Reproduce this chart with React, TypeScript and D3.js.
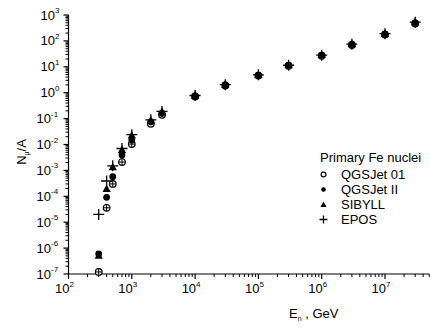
import React from "react";
import * as d3 from "d3";

const energies = [300, 400, 500, 700, 1000, 2000, 3000, 1e4, 3e4, 1e5, 3e5, 1e6, 3e6, 1e7, 3e7];
const qgsjet01 = [1.2e-7, 3.6e-5, 3.0e-4, 2.1e-3, 1.04e-2, 0.063, 0.14, 0.72, 1.9, 4.6, 11, 27, 70, 175, 470];
const qgsjet2 = [6e-7, 9.1e-5, 5.7e-4, 3.9e-3, 0.0148, 0.075, 0.16, 0.75, 2.0, 4.8, 11.4, 28, 74, 185, 500];
const sibyll = [5e-7, 1.9e-4, 1.3e-3, 6.0e-3, 0.022, 0.083, 0.18, 0.76, 2.0, 4.8, 11.4, 28, 74, 185, 520];
const epos = [2e-5, 3.9e-4, 1.5e-3, 7.0e-3, 0.024, 0.09, 0.19, 0.78, 2.05, 4.9, 11.5, 28, 75, 190, 530];

const xTickExps = [2, 3, 4, 5, 6, 7];
const yTickExps = [-7, -6, -5, -4, -3, -2, -1, 0, 1, 2, 3];
const legendTitle = "Primary Fe nuclei";
const legendNames = ["QGSJet 01", "QGSJet II", "SIBYLL", "EPOS"];

const W = 430;
const H = 329;
const FONT = "'Liberation Sans', Arial, sans-serif";

export default function App() {
  const x = d3.scaleLog().domain([100, 5e7]).range([68.5, 68.5 + Math.log10(5e5) * 63.3]);
  const y = d3.scaleLog().domain([1e-7, 1e3]).range([274, 15]);
  const [x0, x1] = x.range();
  const [y0, y1] = y.range();

  const xMinor: number[] = [];
  for (let e = 2; e <= 7; e++) for (let m = 2; m <= 9; m++) { const v = m * Math.pow(10, e); if (v <= 5e7) xMinor.push(v); }
  const yMinor: number[] = [];
  for (let e = -7; e < 3; e++) for (let m = 2; m <= 9; m++) yMinor.push(m * Math.pow(10, e));

  const tri = (cx: number, cy: number, s: number) =>
    `M${cx},${cy - s * 0.62} L${cx + s * 0.55},${cy + s * 0.38} L${cx - s * 0.55},${cy + s * 0.38} Z`;

  const openCircle = (cx: number, cy: number, r: number, cross: boolean, key: string) => (
    <g key={key}>
      <circle cx={cx} cy={cy} r={r} fill="white" stroke="black" strokeWidth={1.2} />
      {cross && <path d={`M${cx - r},${cy} H${cx + r} M${cx},${cy - r} V${cy + r}`} stroke="black" strokeWidth={1} />}
    </g>
  );
  const plus = (cx: number, cy: number, a: number, key: string) => (
    <path key={key} d={`M${cx - a},${cy} H${cx + a} M${cx},${cy - a} V${cy + a}`} stroke="black" strokeWidth={1.3} />
  );

  const legX = 323.5;
  const legTextX = 341;
  const legRows = [174.5, 189.5, 204.5, 219.5];

  return (
    <svg width={W} height={H} style={{ position: "absolute", left: 0, top: 0, background: "white" }} fontFamily={FONT}>
      <rect width={W} height={H} fill="white" />
      {/* axes */}
      <line x1={x0} x2={x1} y1={y0} y2={y0} stroke="black" strokeWidth={1.2} />
      <line x1={x0} x2={x0} y1={y0} y2={y1} stroke="black" strokeWidth={1.2} />
      {xTickExps.map((e) => {
        const px = x(Math.pow(10, e));
        return (
          <g key={"xt" + e}>
            <line x1={px} x2={px} y1={y0} y2={y0 + 5} stroke="black" strokeWidth={1.2} />
            <text x={px - 4} y={y0 + 19} fontSize={13} textAnchor="middle">
              10<tspan fontSize={8} dy={-6}>{e}</tspan>
            </text>
          </g>
        );
      })}
      {xMinor.map((v, i) => (
        <line key={"xm" + i} x1={x(v)} x2={x(v)} y1={y0} y2={y0 + 3} stroke="black" strokeWidth={1} />
      ))}
      {yTickExps.map((e) => {
        const py = y(Math.pow(10, e));
        return (
          <g key={"yt" + e}>
            <line x1={x0 - 5} x2={x0} y1={py} y2={py} stroke="black" strokeWidth={1.2} />
            <text x={e < 0 ? 51 : 55} y={py + 4.5} fontSize={13} textAnchor="end">10</text>
            <text x={e < 0 ? 51 : 55} y={py - 2} fontSize={8} textAnchor="start">{e < 0 ? "-" + -e : e}</text>
          </g>
        );
      })}
      {yMinor.map((v, i) => (
        <line key={"ym" + i} x1={x0 - 3} x2={x0} y1={y(v)} y2={y(v)} stroke="black" strokeWidth={1} />
      ))}
      {/* axis titles */}
      <g transform="translate(26,152) rotate(-90)">
        <text x={0} y={0} fontSize={13} textAnchor="middle">
          N<tspan fontSize={7} dy={3}>μ</tspan><tspan dy={-3}>/A</tspan>
        </text>
      </g>
      <text x={289} y={318} fontSize={13}>
        E<tspan fontSize={7} dy={3}>n</tspan><tspan dy={-3}> , GeV</tspan>
      </text>
      {/* data */}
      {energies.map((e, i) => openCircle(x(e), y(qgsjet01[i]), 3.3, e < 2000, "o" + i))}
      {energies.map((e, i) => (
        <circle key={"f" + i} cx={x(e)} cy={y(qgsjet2[i])} r={3.4} fill="black" />
      ))}
      {energies.map((e, i) => (
        <path key={"t" + i} d={tri(x(e), y(sibyll[i]), 7.5)} fill="black" />
      ))}
      {energies.map((e, i) => plus(x(e), y(epos[i]), 5.5, "p" + i))}
      {/* legend */}
      <text x={320} y={161.5} fontSize={13}>{legendTitle}</text>
      {openCircle(legX, legRows[0], 2.4, false, "lo")}
      <circle cx={legX} cy={legRows[1]} r={2.3} fill="black" />
      <path d={tri(legX, legRows[2] + 0.5, 5.5)} fill="black" />
      {plus(legX, legRows[3], 4, "lp")}
      {legendNames.map((n, i) => (
        <text key={"ln" + i} x={legTextX} y={legRows[i] + 4.5} fontSize={13}>{n}</text>
      ))}
    </svg>
  );
}
